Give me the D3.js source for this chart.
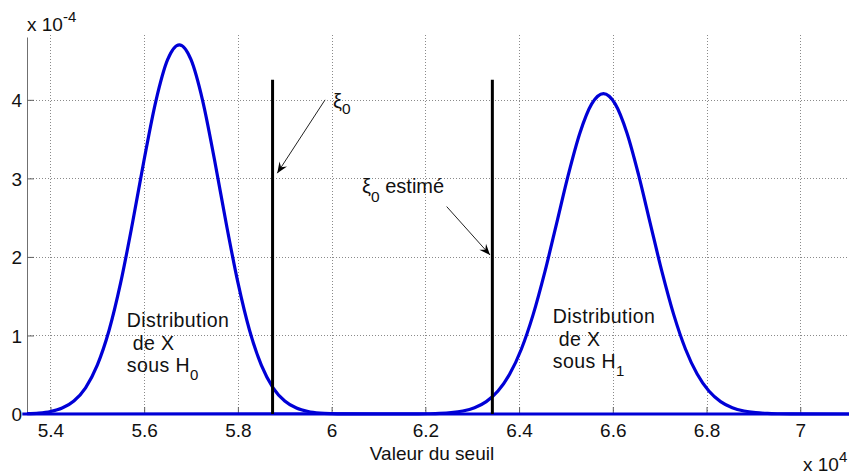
<!DOCTYPE html>
<html>
<head>
<meta charset="utf-8">
<script src="https://cdn.jsdelivr.net/npm/d3@7"></script>
<style>
  html, body { margin: 0; padding: 0; background: #fff; }
  svg { display: block; font-family: "Liberation Sans", Arial, sans-serif; }
</style>
</head>
<body>
<svg id="chart" width="849" height="476"></svg>
<script>
// Threshold values (units of 1e4) and densities (units of 1e-4)
const xTickValues = [5.4, 5.6, 5.8, 6, 6.2, 6.4, 6.6, 6.8, 7];
const xTickLabels = ["5.4", "5.6", "5.8", "6", "6.2", "6.4", "6.6", "6.8", "7"];
const yTickValues = [0, 1, 2, 3, 4];
const yTickLabels = ["0", "1", "2", "3", "4"];

// Density of X under H0
const h0X = [5.35, 5.375, 5.4, 5.425, 5.45, 5.475, 5.5, 5.525, 5.55, 5.575, 5.6, 5.625, 5.65,
             5.675, 5.7, 5.725, 5.75, 5.775, 5.8, 5.825, 5.85, 5.875, 5.9, 5.925, 5.95, 5.975,
             6.0, 6.025, 6.1, 7.12];
const h0Y = [0.004, 0.012, 0.032, 0.076, 0.166, 0.334, 0.622, 1.063, 1.675, 2.428, 3.241, 3.985, 4.511,
             4.70, 4.511, 3.985, 3.241, 2.428, 1.675, 1.063, 0.622, 0.334, 0.166, 0.076, 0.032, 0.012,
             0.004, 0.001, 0, 0];

// Density of X under H1
const h1X = [5.34, 6.18, 6.205, 6.23, 6.255, 6.28, 6.305, 6.33, 6.355, 6.38, 6.405, 6.43, 6.455, 6.48,
             6.505, 6.53, 6.555, 6.58, 6.605, 6.63, 6.655, 6.68, 6.705, 6.73, 6.755, 6.78, 6.805,
             6.83, 6.855, 6.88, 6.905, 6.93, 6.955, 6.98, 7.12];
const h1Y = [0, 0.001, 0.003, 0.007, 0.017, 0.038, 0.080, 0.158, 0.292, 0.509, 0.828, 1.265, 1.809, 2.424,
             3.045, 3.582, 3.949, 4.08, 3.949, 3.582, 3.045, 2.424, 1.809, 1.265, 0.828, 0.509, 0.292,
             0.158, 0.080, 0.038, 0.017, 0.007, 0.003, 0.001, 0];

// Thresholds: true xi_0 and estimated xi_0, with segment heights
const thresholdX = [5.874, 6.343];
const thresholdTop = 4.255;

// Annotation arrows in data units
const arrowStart = [[5.986, 4.0], [6.2455, 2.641]];
const arrowEnd = [[5.884, 3.066], [6.338, 2.025]];

const svg = d3.select("#chart");
const W = 849, H = 476;
const plotLeft = 27, plotBottom = 414, plotTop = 37;

const x = d3.scaleLinear().domain([5.35, 7.104]).range([plotLeft, W]);
const y = d3.scaleLinear().domain([0, 4.8]).range([plotBottom, plotTop]);

svg.append("rect").attr("width", W).attr("height", H).attr("fill", "#fff");

// Grid
const grid = svg.append("g").attr("stroke", "#8a8a8a").attr("stroke-width", 1)
  .attr("stroke-dasharray", "1,2").attr("fill", "none");
grid.selectAll(".gx").data(xTickValues).join("line")
  .attr("x1", d => Math.round(x(d)) + 0.5).attr("x2", d => Math.round(x(d)) + 0.5)
  .attr("y1", y(0)).attr("y2", y(4.8) - 3);
grid.selectAll(".gy").data(yTickValues.filter(d => d > 0)).join("line")
  .attr("x1", plotLeft).attr("x2", W)
  .attr("y1", d => Math.round(y(d)) + 0.5).attr("y2", d => Math.round(y(d)) + 0.5);

// Axes
const xAxis = d3.axisBottom(x).tickValues(xTickValues)
  .tickFormat((d, i) => xTickLabels[i]).tickSizeInner(-7).tickSizeOuter(0).tickPadding(9);
const yAxis = d3.axisLeft(y).tickValues(yTickValues)
  .tickFormat((d, i) => yTickLabels[i]).tickSizeInner(-7).tickSizeOuter(0).tickPadding(5);

const gx = svg.append("g").attr("transform", `translate(0,${plotBottom})`).call(xAxis);
const gy = svg.append("g").attr("transform", `translate(${plotLeft},0)`).call(yAxis);
[gx, gy].forEach(g => {
  g.select(".domain").attr("stroke", "#707070");
  g.selectAll(".tick line").attr("stroke", "#606060");
  g.selectAll(".tick text").attr("fill", "#111").attr("font-size", 19)
    .attr("font-family", "'Liberation Sans', Arial, sans-serif");
});
gx.selectAll(".tick text").attr("dy", "0.72em");
gy.selectAll(".tick text").attr("dy", "0.36em");

// Density curves
const line = d3.line().x(d => x(d[0])).y(d => y(d[1])).curve(d3.curveMonotoneX);
const curves = [d3.zip(h0X, h0Y), d3.zip(h1X, h1Y)];
svg.append("g").selectAll("path").data(curves).join("path")
  .attr("d", line).attr("fill", "none").attr("stroke", "#0000d6")
  .attr("stroke-width", 3.2).attr("stroke-linejoin", "round");

// Threshold segments
svg.append("g").selectAll("line").data(thresholdX).join("line")
  .attr("x1", d => x(d)).attr("x2", d => x(d))
  .attr("y1", y(0)).attr("y2", y(thresholdTop))
  .attr("stroke", "#000").attr("stroke-width", 3);

// Arrow heads
svg.append("defs").append("marker")
  .attr("id", "head").attr("viewBox", "-12 -6 14 12")
  .attr("refX", 0).attr("refY", 0)
  .attr("markerWidth", 14).attr("markerHeight", 12)
  .attr("markerUnits", "userSpaceOnUse").attr("orient", "auto")
  .append("path").attr("d", "M0,0 L-11,-4.5 L-7,0 L-11,4.5 Z").attr("fill", "#000");

svg.append("g").selectAll("line").data(d3.zip(arrowStart, arrowEnd)).join("line")
  .attr("x1", d => x(d[0][0])).attr("y1", d => y(d[0][1]))
  .attr("x2", d => x(d[1][0])).attr("y2", d => y(d[1][1]))
  .attr("stroke", "#222").attr("stroke-width", 1)
  .attr("marker-end", "url(#head)");

// Text helper with subscripts / superscripts
function label(px, py, parts, size, spacing) {
  const t = svg.append("text").attr("x", px).attr("y", py)
    .attr("font-size", size).attr("fill", "#111");
  if (spacing) t.attr("letter-spacing", spacing);
  parts.forEach(p => {
    const s = t.append("tspan").text(p.text);
    if (p.dy) s.attr("dy", p.dy);
    if (p.size) s.attr("font-size", p.size);
  });
  return t;
}

// Distribution labels, one line each
function distLabel(dx, dy, sub) {
  const px = x(dx), py = y(dy);
  label(px, py, [{ text: "Distribution" }], 19.5, 0.4);
  label(px + 6, py + 23, [{ text: "de X" }], 19.5, 0.4);
  label(px, py + 45, [{ text: "sous H" }, { text: sub, size: 15, dy: 8 }], 19.5, 0.4);
}
distLabel(5.563, 1.108, "0");
distLabel(6.472, 1.16, "1");

// xi_0 labels
label(x(6.003), y(3.9), [{ text: "ξ" }, { text: "0", size: 15.5, dy: 6 }], 20);
label(x(6.065), y(2.815), [{ text: "ξ" }, { text: "0", size: 15.5, dy: 9 }, { text: " estimé", dy: -9 }], 20);

// Axis scale factors and title
label(27, 31, [{ text: "x 10" }, { text: "-4", size: 15, dy: -9 }], 19);
label(803, 471, [{ text: "x 10" }, { text: "4", size: 15, dy: -9 }], 19);
svg.append("text").attr("x", 432).attr("y", 460).attr("text-anchor", "middle")
  .attr("font-size", 19).attr("fill", "#111").text("Valeur du seuil");
</script>
</body>
</html>
